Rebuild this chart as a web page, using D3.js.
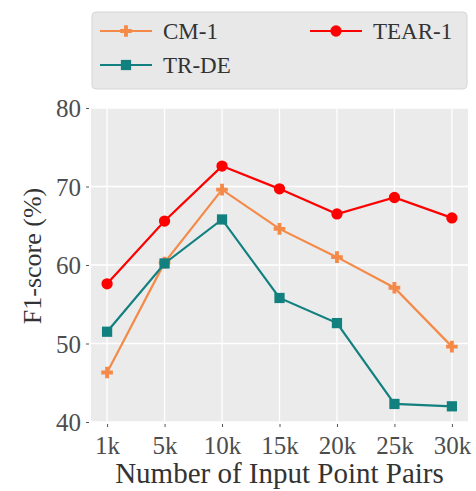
<!DOCTYPE html>
<html>
<head>
<meta charset="utf-8">
<script src="https://cdn.jsdelivr.net/npm/d3@7"></script>
<style>
  body { margin: 0; background: #fff; }
  svg text { font-family: "Liberation Serif", "Times New Roman", serif !important; }
</style>
</head>
<body>
<div id="chart"></div>
<script>
// Data.
const pairs = ["1k", "5k", "10k", "15k", "20k", "25k", "30k"];
const cm1 = [46.3, 60.3, 69.6, 64.6, 61.0, 57.1, 49.6];
const tear1 = [57.6, 65.6, 72.6, 69.7, 66.5, 68.6, 66.0];
const trde = [51.5, 60.2, 65.8, 55.8, 52.6, 42.3, 42.0];
const yTicks = [40, 50, 60, 70, 80];

const series = [
  {name: "CM-1", values: cm1, color: "#F58A48", symbol: d3.symbolCross, size: 75},
  {name: "TEAR-1", values: tear1, color: "#FF0000", symbol: d3.symbolCircle, size: 100},
  {name: "TR-DE", values: trde, color: "#138080", symbol: d3.symbolSquare, size: 105}
];

const totalWidth = 476, totalHeight = 491;
const panel = {left: 91, right: 468, top: 108, bottom: 422};

const svg = d3.select("#chart").append("svg")
  .attr("width", totalWidth)
  .attr("height", totalHeight)
  .attr("font-family", "Liberation Serif");

const x = d3.scalePoint().domain(pairs).range([panel.left, panel.right]).padding(0.28);
const y = d3.scaleLinear().domain([40, 80]).range([panel.bottom, panel.top]);

// Panel background and grid.
svg.append("rect")
  .attr("x", panel.left).attr("y", panel.top)
  .attr("width", panel.right - panel.left).attr("height", panel.bottom - panel.top)
  .attr("fill", "#EBEBEB");

svg.append("g").selectAll("line").data(yTicks).join("line")
  .attr("x1", panel.left).attr("x2", panel.right)
  .attr("y1", d => y(d)).attr("y2", d => y(d))
  .attr("stroke", "#fff").attr("stroke-width", 1.3);

svg.append("g").selectAll("line").data(pairs).join("line")
  .attr("x1", d => x(d)).attr("x2", d => x(d))
  .attr("y1", panel.top).attr("y2", panel.bottom)
  .attr("stroke", "#fff").attr("stroke-width", 1.3);

// Axes.
const yAxis = svg.append("g")
  .attr("transform", `translate(${panel.left - 2},0)`)
  .call(d3.axisLeft(y).tickValues(yTicks).tickSize(3).tickPadding(5))
  .attr("font-family", null).attr("font-size", null);
yAxis.select(".domain").remove();
yAxis.selectAll("line").attr("stroke", "#555");
yAxis.selectAll("text").attr("fill", "#4D4D4D").attr("font-size", 25).attr("dy", "0.34em");

const xAxis = svg.append("g")
  .attr("transform", `translate(0,${panel.bottom + 2})`)
  .call(d3.axisBottom(x).tickSize(3).tickPadding(9))
  .attr("font-family", null).attr("font-size", null);
xAxis.select(".domain").remove();
xAxis.selectAll("line").attr("stroke", "#555");
xAxis.selectAll("text").attr("fill", "#4D4D4D").attr("font-size", 25);

// Axis titles.
svg.append("text")
  .attr("x", (panel.left + panel.right) / 2).attr("y", 483)
  .attr("text-anchor", "middle").attr("fill", "#333")
  .attr("font-size", 29)
  .text("Number of Input Point Pairs");

svg.append("text")
  .attr("transform", `translate(41,256) rotate(-90)`)
  .attr("text-anchor", "middle").attr("fill", "#333")
  .attr("font-size", 26)
  .text("F1-score (%)");

// Lines and points.
const line = d3.line().x((d, i) => x(pairs[i])).y(d => y(d));

series.forEach(s => {
  svg.append("path").datum(s.values)
    .attr("d", line).attr("fill", "none")
    .attr("stroke", s.color).attr("stroke-width", 2.2);
  svg.append("g").selectAll("path").data(s.values).join("path")
    .attr("transform", (d, i) => `translate(${x(pairs[i])},${y(d)})`)
    .attr("d", d3.symbol().type(s.symbol).size(s.size))
    .attr("fill", s.color);
});

// Legend.
const legend = svg.append("g");
legend.append("rect")
  .attr("x", 92).attr("y", 12).attr("width", 375).attr("height", 77)
  .attr("rx", 4).attr("fill", "#E8E8E8").attr("stroke", "#D6D6D6");

const legendPos = [
  {s: series[0], x: 100, y: 31},
  {s: series[1], x: 310, y: 31},
  {s: series[2], x: 100, y: 65}
];
legendPos.forEach(p => {
  legend.append("line")
    .attr("x1", p.x).attr("x2", p.x + 52).attr("y1", p.y).attr("y2", p.y)
    .attr("stroke", p.s.color).attr("stroke-width", 2.2);
  legend.append("path")
    .attr("transform", `translate(${p.x + 26},${p.y})`)
    .attr("d", d3.symbol().type(p.s.symbol).size(p.s.size))
    .attr("fill", p.s.color);
  legend.append("text")
    .attr("x", p.x + 63).attr("y", p.y + 8)
    .attr("fill", "#333").attr("font-size", 23)
    .text(p.s.name);
});
</script>
</body>
</html>
